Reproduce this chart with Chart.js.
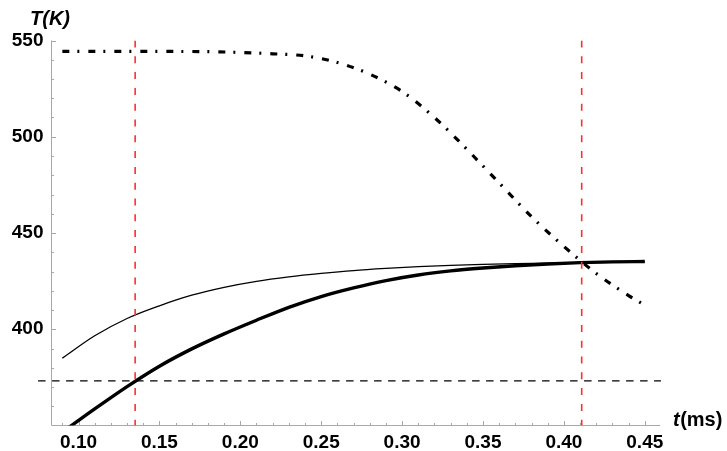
<!DOCTYPE html>
<html>
<head>
<meta charset="utf-8">
<script src="https://cdn.jsdelivr.net/npm/chart.js@4/dist/chart.umd.min.js"></script>
<style>
  html, body { margin: 0; padding: 0; background: #fff; }
  #wrap { width: 727px; height: 451px; position: relative; }
</style>
</head>
<body>
<div id="wrap"><canvas id="chart-temp"></canvas></div>
<script>
const FONT = "'Liberation Sans', Arial, sans-serif";
const AXIS_GRAY = "#a8a8a8";
const RED = "rgb(255, 45, 45)";

// time axis ticks (ms) and temperature ticks (K)
const X_TICKS = [0.10, 0.15, 0.20, 0.25, 0.30, 0.35, 0.40, 0.45];
const Y_TICKS = [400, 450, 500, 550];

// sample times shared by the two rising curves
const T_RISE = [0.09, 0.11, 0.13, 0.15, 0.17, 0.19, 0.21, 0.23, 0.25, 0.27, 0.29, 0.31, 0.33, 0.35, 0.37, 0.39, 0.41, 0.43, 0.45];
const THIN = [385, 396.6, 405.6, 412.2, 417.7, 421.8, 424.9, 427.2, 429, 430.5, 431.6, 432.5, 433.2, 433.7, 434.1, 434.4, 434.6, 434.8, 435];
const THICK = [346.5, 358.6, 370.2, 380.8, 389.8, 397.6, 404.7, 411.4, 417, 421.5, 425.3, 428.2, 430.3, 431.8, 433, 433.9, 434.6, 435, 435.2];

// dash-dot curve
const T_DD = [0.09, 0.10, 0.12, 0.14, 0.16, 0.18, 0.20, 0.22, 0.24, 0.26, 0.28, 0.30, 0.32, 0.34, 0.36, 0.38, 0.40, 0.42, 0.44, 0.45];
const DD = [544.3, 544.3, 544.3, 544.3, 544.3, 544.2, 543.8, 543.1, 542, 538.6, 532.5, 523.5, 510, 493.5, 476, 458.5, 443, 429, 417.5, 412.5];

// reference levels
const T_LEVEL = 373.2;
const LEVEL_SPAN = [0.075, 0.46];
const RED_T = [0.135, 0.411];

const series = (xs, ys) => xs.map((t, i) => ({ x: t, y: ys[i] }));

// axis lines with inward ticks, plus the two axis titles
const axesPlugin = {
  id: "axesInward",
  beforeDatasetsDraw(chart) {
    const { ctx, chartArea: a, scales: { x, y } } = chart;
    ctx.save();
    ctx.strokeStyle = AXIS_GRAY;
    ctx.lineWidth = 1;
    ctx.beginPath();
    ctx.moveTo(a.left, a.bottom);
    ctx.lineTo(a.right, a.bottom);
    ctx.moveTo(a.left, a.bottom);
    ctx.lineTo(a.left, a.top);
    for (let k = 9; k <= 45; k++) {
      const px = Math.round(x.getPixelForValue(k / 100)) + 0.5;
      const len = k % 5 === 0 ? 4.5 : 2.5;
      ctx.moveTo(px, a.bottom);
      ctx.lineTo(px, a.bottom - len);
    }
    for (let v = 360; v <= 550; v += 10) {
      const py = Math.round(y.getPixelForValue(v)) + 0.5;
      const len = v % 50 === 0 ? 4.5 : 2.5;
      ctx.moveTo(a.left, py);
      ctx.lineTo(a.left + len, py);
    }
    ctx.stroke();
    ctx.restore();
  },
  afterDraw(chart) {
    const { ctx } = chart;
    ctx.save();
    ctx.fillStyle = "#000";
    ctx.textBaseline = "alphabetic";
    ctx.font = "italic bold 20px " + FONT;
    ctx.fillText("T(K)", 30, 24.5);
    ctx.fillText("t", 673, 426);
    const w = ctx.measureText("t").width;
    ctx.font = "bold 20px " + FONT;
    ctx.fillText("(ms)", 673 + w + 0.5, 426);
    ctx.restore();
  }
};

new Chart(document.getElementById("chart-temp"), {
  type: "line",
  data: {
    datasets: [
      {
        data: series(T_RISE, THICK),
        borderColor: "#000",
        borderWidth: 3.4,
        cubicInterpolationMode: "monotone",
        clip: 0,
        order: 3,
      },
      {
        data: series(T_RISE, THIN),
        borderColor: "#000",
        borderWidth: 1.3,
        cubicInterpolationMode: "monotone",
        order: 4,
      },
      {
        data: series(T_DD, DD),
        borderColor: "#000",
        borderWidth: 3.2,
        borderDash: [7, 8, 2, 9],
        borderCapStyle: "butt",
        cubicInterpolationMode: "monotone",
        order: 2,
      },
      {
        data: LEVEL_SPAN.map((t) => ({ x: t, y: T_LEVEL })),
        borderColor: "#000",
        borderWidth: 1.3,
        borderDash: [7.5, 6.5],
        clip: false,
        order: 5,
      },
      ...RED_T.map((t) => ({
        data: [{ x: t, y: 550 }, { x: t, y: 350 }],
        borderColor: RED,
        borderWidth: 1.6,
        borderDash: [7, 8.8],
        order: 1,
      })),
    ],
  },
  options: {
    responsive: true,
    maintainAspectRatio: false,
    animation: false,
    events: [],
    layout: { padding: { left: 0, top: 40.5, right: 67, bottom: 0 } },
    elements: { point: { radius: 0 } },
    plugins: { legend: { display: false }, tooltip: { enabled: false } },
    scales: {
      x: {
        type: "linear",
        min: 0.0833,
        max: 0.4594,
        afterBuildTicks: (s) => { s.ticks = X_TICKS.map((v) => ({ value: v })); },
        afterFit: (s) => { s.height = 25.5; },
        grid: { display: false, drawTicks: false },
        border: { display: false },
        ticks: {
          color: "#000",
          padding: 6,
          maxRotation: 0,
          autoSkip: false,
          font: { family: FONT, size: 19, weight: "bold" },
          callback: (v) => Number(v).toFixed(2),
        },
      },
      y: {
        type: "linear",
        min: 350,
        max: 550,
        afterBuildTicks: (s) => { s.ticks = Y_TICKS.map((v) => ({ value: v })); },
        afterFit: (s) => { s.width = 51.5; },
        grid: { display: false, drawTicks: false },
        border: { display: false },
        ticks: {
          color: "#000",
          padding: 8,
          font: { family: FONT, size: 19, weight: "bold" },
        },
      },
    },
  },
  plugins: [axesPlugin],
});
</script>
</body>
</html>
